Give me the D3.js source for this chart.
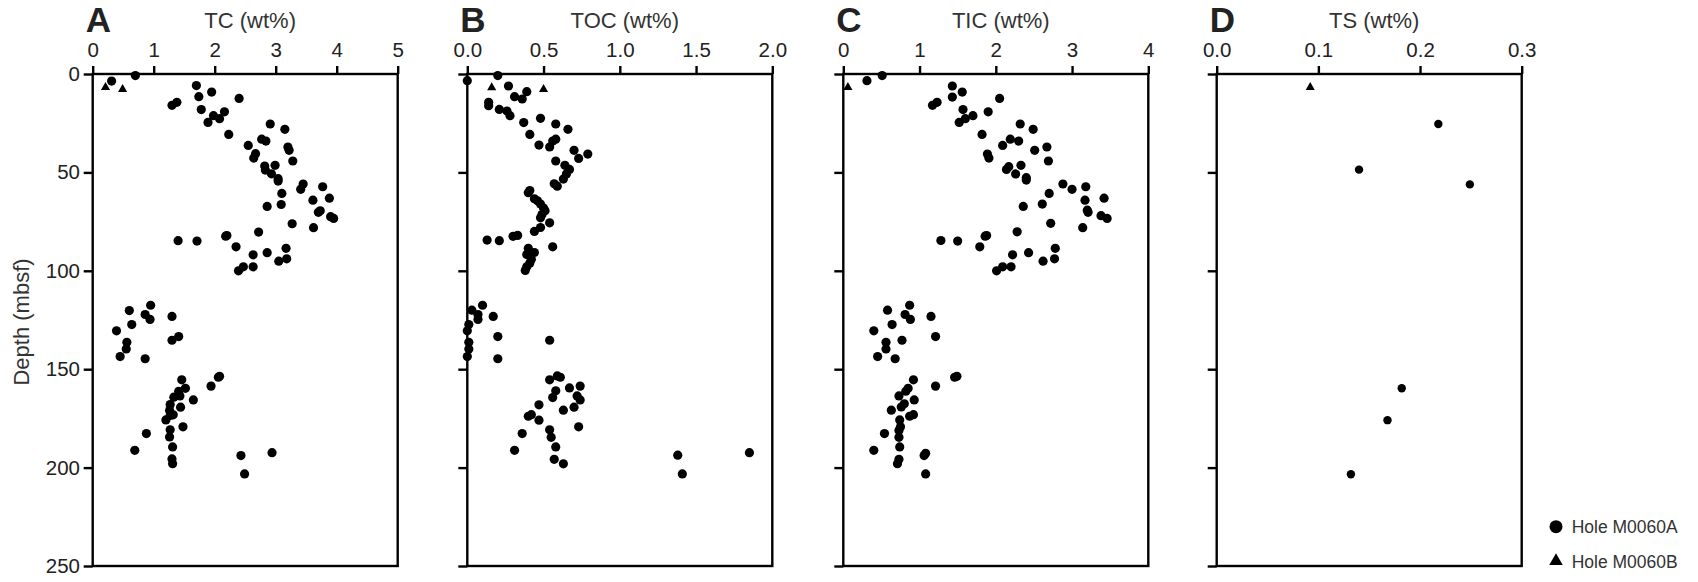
<!DOCTYPE html>
<html>
<head>
<meta charset="utf-8">
<script src="https://cdn.jsdelivr.net/npm/d3@7"></script>
<style>
  html, body { margin: 0; padding: 0; background: #fff; }
  svg { display: block; font-family: "Liberation Sans", Arial, Helvetica, sans-serif; }
</style>
</head>
<body>
<svg id="chart" width="1698" height="582"></svg>
<script>
// Depth profiles of carbon and sulfur content, Holes M0060A and M0060B.
// Each sample is [depth (mbsf), value (wt%)].

const depthTicks = [0, 50, 100, 150, 200, 250];

const panelLetters = ["A", "B", "C", "D"];
const panelTitles = ["TC (wt%)", "TOC (wt%)", "TIC (wt%)", "TS (wt%)"];
const xTicksTC = [0, 1, 2, 3, 4, 5];
const xTicksTOC = [0, 0.5, 1.0, 1.5, 2.0];
const xTicksTIC = [0, 1, 2, 3, 4];
const xTicksTS = [0, 0.1, 0.2, 0.3];

// Total carbon
const tcHoleA = [
  [0.8, 0.70], [3.6, 0.31], [5.9, 1.70], [9.2, 1.95], [11.5, 1.74], [12.4, 2.40],
  [14.4, 1.38], [15.9, 1.30], [18.1, 1.78], [19.2, 2.16], [21.2, 1.98], [22.7, 2.08],
  [24.6, 1.89], [25.4, 2.91], [28.1, 3.15], [30.7, 2.23], [33.1, 2.77], [34.1, 2.84],
  [36.3, 2.55], [37.1, 3.20], [38.8, 3.22], [40.5, 2.67], [42.7, 2.64], [44.2, 3.28],
  [46.4, 2.99], [46.8, 2.82], [48.8, 2.83], [50.7, 2.93], [53.2, 3.04], [54.4, 3.04],
  [55.9, 3.45], [58.6, 3.41], [57.3, 3.77], [60.7, 3.10], [64.1, 3.61], [63.1, 3.88],
  [66.3, 3.09], [67.3, 2.86], [69.5, 3.73], [70.3, 3.70], [72.5, 3.90], [73.4, 3.95],
  [76.1, 3.27], [78.1, 3.62], [80.3, 2.72], [82.4, 2.18], [82.1, 2.20], [84.7, 1.40],
  [84.9, 1.71], [87.8, 2.35], [88.6, 3.17], [90.8, 2.86], [91.9, 2.63], [93.9, 3.18],
  [95.1, 3.05], [98.0, 2.63], [98.0, 2.47], [100.0, 2.39],
  [117.5, 0.95], [120.2, 0.60], [122.2, 0.86], [124.7, 0.94], [123.2, 1.30], [127.3, 0.64],
  [130.5, 0.39], [133.4, 1.41], [135.3, 1.30], [136.3, 0.56], [139.7, 0.55], [143.6, 0.45],
  [144.7, 0.86], [153.6, 2.08], [154.1, 2.06], [155.4, 1.46], [158.6, 1.94], [159.7, 1.52],
  [161.2, 1.41], [163.6, 1.43], [164.2, 1.33], [165.6, 1.65], [168.0, 1.27], [169.3, 1.44],
  [171.0, 1.26], [173.2, 1.32], [173.5, 1.27], [175.8, 1.20], [179.3, 1.48], [180.8, 1.27],
  [182.7, 0.88], [184.4, 1.26], [189.5, 1.31], [191.2, 0.69], [193.9, 2.43], [192.4, 2.94],
  [195.6, 1.30], [198.0, 1.31], [203.2, 2.49]
];
const tcHoleB = [[6.8, 0.21], [7.8, 0.49]];

// Total organic carbon
const tocHoleA = [
  [3.4, 0.00], [0.8, 0.20], [6.1, 0.27], [9.0, 0.39], [11.5, 0.31], [12.7, 0.36],
  [14.4, 0.14], [16.1, 0.14], [18.0, 0.21], [18.8, 0.26], [21.2, 0.28], [22.5, 0.48],
  [24.7, 0.37], [25.4, 0.58], [28.1, 0.66], [30.7, 0.41], [33.1, 0.58], [34.1, 0.56],
  [36.1, 0.47], [37.1, 0.54], [38.8, 0.70], [40.7, 0.79], [42.9, 0.73], [44.2, 0.58],
  [46.4, 0.64], [48.5, 0.67], [50.8, 0.65], [53.4, 0.63], [55.8, 0.57], [57.0, 0.59],
  [60.3, 0.40], [59.2, 0.41], [63.4, 0.44], [64.4, 0.46], [66.1, 0.48], [68.1, 0.50],
  [69.5, 0.51], [71.4, 0.49], [73.1, 0.48], [75.6, 0.54], [78.0, 0.48], [80.0, 0.44],
  [82.0, 0.33], [82.5, 0.30], [84.4, 0.13], [84.7, 0.21], [87.8, 0.56], [88.6, 0.40],
  [90.7, 0.44], [91.7, 0.39], [94.1, 0.42], [96.1, 0.41], [98.0, 0.39], [99.8, 0.38],
  [117.5, 0.10], [120.0, 0.03], [122.2, 0.07], [124.7, 0.07], [123.2, 0.17], [127.3, 0.01],
  [130.5, 0.00], [133.4, 0.20], [135.3, 0.54], [136.3, 0.01], [139.7, 0.01], [143.6, 0.00],
  [144.7, 0.20], [153.4, 0.59], [154.1, 0.61], [155.4, 0.54], [158.6, 0.74], [159.5, 0.67],
  [161.0, 0.58], [163.6, 0.72], [165.6, 0.74], [164.4, 0.56], [168.1, 0.47], [169.3, 0.70],
  [170.8, 0.63], [173.1, 0.42], [173.9, 0.40], [175.9, 0.47], [179.3, 0.73], [180.8, 0.54],
  [182.7, 0.36], [184.6, 0.55], [189.5, 0.58], [191.2, 0.31], [193.7, 1.38], [192.4, 1.85],
  [195.8, 0.57], [198.1, 0.63], [203.2, 1.41]
];
const tocHoleB = [[6.9, 0.16], [7.8, 0.50]];

// Total inorganic carbon
const ticHoleA = [
  [3.4, 0.31], [0.8, 0.51], [6.1, 1.43], [9.2, 1.56], [11.7, 1.43], [12.4, 2.05],
  [14.4, 1.23], [15.9, 1.17], [18.1, 1.57], [19.2, 1.90], [21.2, 1.70], [22.7, 1.60],
  [24.6, 1.52], [25.4, 2.32], [28.1, 2.49], [30.7, 1.82], [33.1, 2.19], [34.1, 2.30],
  [36.3, 2.09], [37.1, 2.67], [38.8, 2.51], [40.7, 1.89], [42.7, 1.91], [44.2, 2.69],
  [46.4, 2.33], [47.1, 2.17], [48.5, 2.14], [50.8, 2.26], [52.7, 2.40], [53.9, 2.40],
  [55.9, 2.88], [58.6, 3.00], [57.3, 3.18], [60.7, 2.70], [63.1, 3.42], [64.1, 3.17],
  [66.1, 2.61], [67.3, 2.36], [69.2, 3.20], [70.3, 3.21], [72.0, 3.38], [73.4, 3.46],
  [75.9, 2.72], [78.1, 3.14], [80.2, 2.28], [82.4, 1.86], [82.1, 1.88], [84.6, 1.28],
  [84.9, 1.50], [87.8, 1.79], [88.6, 2.78], [90.8, 2.43], [91.9, 2.22], [93.9, 2.77],
  [95.1, 2.62], [98.0, 2.20], [98.0, 2.09], [100.0, 2.01],
  [117.5, 0.87], [120.0, 0.58], [122.2, 0.81], [124.7, 0.88], [123.2, 1.15], [127.3, 0.64],
  [130.5, 0.40], [133.4, 1.21], [135.3, 0.77], [136.3, 0.56], [139.7, 0.56], [143.6, 0.45],
  [144.7, 0.68], [153.6, 1.49], [154.1, 1.46], [155.4, 0.92], [158.6, 1.21], [159.7, 0.85],
  [161.2, 0.82], [163.6, 0.73], [165.6, 0.93], [167.6, 0.80], [169.2, 0.76], [170.8, 0.63],
  [173.1, 0.92], [173.9, 0.87], [175.8, 0.74], [179.2, 0.75], [181.2, 0.73], [182.7, 0.54],
  [184.6, 0.73], [189.5, 0.74], [191.2, 0.40], [192.7, 1.08], [193.9, 1.06], [195.8, 0.73],
  [198.0, 0.71], [203.2, 1.08]
];
const ticHoleB = [[6.8, 0.06]];

// Total sulfur
const tsHoleA = [
  [25.4, 0.218], [48.6, 0.140], [56.1, 0.249], [159.7, 0.182], [175.9, 0.168], [203.4, 0.132]
];
const tsHoleB = [[6.8, 0.092]];

const legendLabels = ["Hole M0060A", "Hole M0060B"];

const panels = [
  { letter: panelLetters[0], title: panelTitles[0], domain: [0, 5],   ticks: xTicksTC,  fmt: d3.format("d"),   holeA: tcHoleA,  holeB: tcHoleB,  r: 4.6 },
  { letter: panelLetters[1], title: panelTitles[1], domain: [0, 2],   ticks: xTicksTOC, fmt: d3.format(".1f"), holeA: tocHoleA, holeB: tocHoleB, r: 4.6 },
  { letter: panelLetters[2], title: panelTitles[2], domain: [0, 4],   ticks: xTicksTIC, fmt: d3.format("d"),   holeA: ticHoleA, holeB: ticHoleB, r: 4.6 },
  { letter: panelLetters[3], title: panelTitles[3], domain: [0, 0.3], ticks: xTicksTS,  fmt: d3.format(".1f"), holeA: tsHoleA,  holeB: tsHoleB,  r: 4.2 }
];

const panelLeft = [92.7, 467.3, 843.3, 1216.7];
const panelWidth = 305;
const plotTop = 74, plotBottom = 566;
const lineW = 2.4;
const ink = "#000";
const textInk = "#222";

const svg = d3.select("#chart");

const y = d3.scaleLinear().domain([0, 250]).range([plotTop, plotBottom]);
const triangle = d3.symbol().type(d3.symbolTriangle).size(36);

panels.forEach((p, i) => {
  const x0 = panelLeft[i];
  const x = d3.scaleLinear().domain(p.domain).range([x0, x0 + panelWidth]);
  const g = svg.append("g");

  // frame
  g.append("rect")
    .attr("x", x0).attr("y", plotTop)
    .attr("width", panelWidth).attr("height", plotBottom - plotTop)
    .attr("fill", "none").attr("stroke", ink).attr("stroke-width", lineW);

  // top value axis
  const xAxis = d3.axisTop(x).tickValues(p.ticks).tickFormat(p.fmt)
    .tickSize(8).tickSizeOuter(0).tickPadding(8.7);
  const gx = g.append("g").attr("transform", `translate(0,${plotTop})`).call(xAxis);
  gx.select(".domain").remove();
  gx.selectAll("line").attr("stroke", ink).attr("stroke-width", lineW);
  gx.selectAll("text").attr("fill", textInk).attr("font-size", 20.5);

  // left depth axis (labels on first panel only)
  const yAxis = d3.axisLeft(y).tickValues(depthTicks)
    .tickFormat(i === 0 ? d3.format("d") : () => "")
    .tickSize(9).tickSizeOuter(0).tickPadding(3.7);
  const gy = g.append("g").attr("transform", `translate(${x0},0)`).call(yAxis);
  gy.select(".domain").remove();
  gy.selectAll("line").attr("stroke", ink).attr("stroke-width", lineW);
  gy.selectAll("text").attr("fill", textInk).attr("font-size", 20.5);

  // panel letter and axis title
  g.append("text")
    .attr("x", x0 - 7).attr("y", 31.5)
    .attr("font-size", 35).attr("font-weight", "bold").attr("fill", textInk)
    .text(p.letter);
  g.append("text")
    .attr("x", x0 + panelWidth / 2 + 5).attr("y", 28.3)
    .attr("text-anchor", "middle").attr("font-size", 22).attr("fill", "#333")
    .text(p.title);

  // Hole M0060A samples
  g.append("g").selectAll("circle").data(p.holeA).join("circle")
    .attr("cx", d => x(d[1])).attr("cy", d => y(d[0]))
    .attr("r", p.r).attr("fill", ink);

  // Hole M0060B samples
  g.append("g").selectAll("path").data(p.holeB).join("path")
    .attr("d", triangle)
    .attr("transform", d => `translate(${x(d[1])},${y(d[0])})`)
    .attr("fill", ink);
});

// depth axis title
svg.append("text")
  .attr("transform", "translate(28.5,322) rotate(-90)")
  .attr("text-anchor", "middle").attr("font-size", 22).attr("fill", "#333")
  .text("Depth (mbsf)");

// legend
const legend = svg.append("g");
legend.append("circle").attr("cx", 1556).attr("cy", 526.7).attr("r", 6.5).attr("fill", ink);
legend.append("path")
  .attr("d", d3.symbol().type(d3.symbolTriangle).size(80)())
  .attr("transform", "translate(1556,561)").attr("fill", ink);
legend.selectAll("text").data(legendLabels).join("text")
  .attr("x", 1571.7).attr("y", (d, i) => 533.3 + i * 34.3)
  .attr("font-size", 17.5).attr("fill", "#333")
  .text(d => d);
</script>
</body>
</html>
